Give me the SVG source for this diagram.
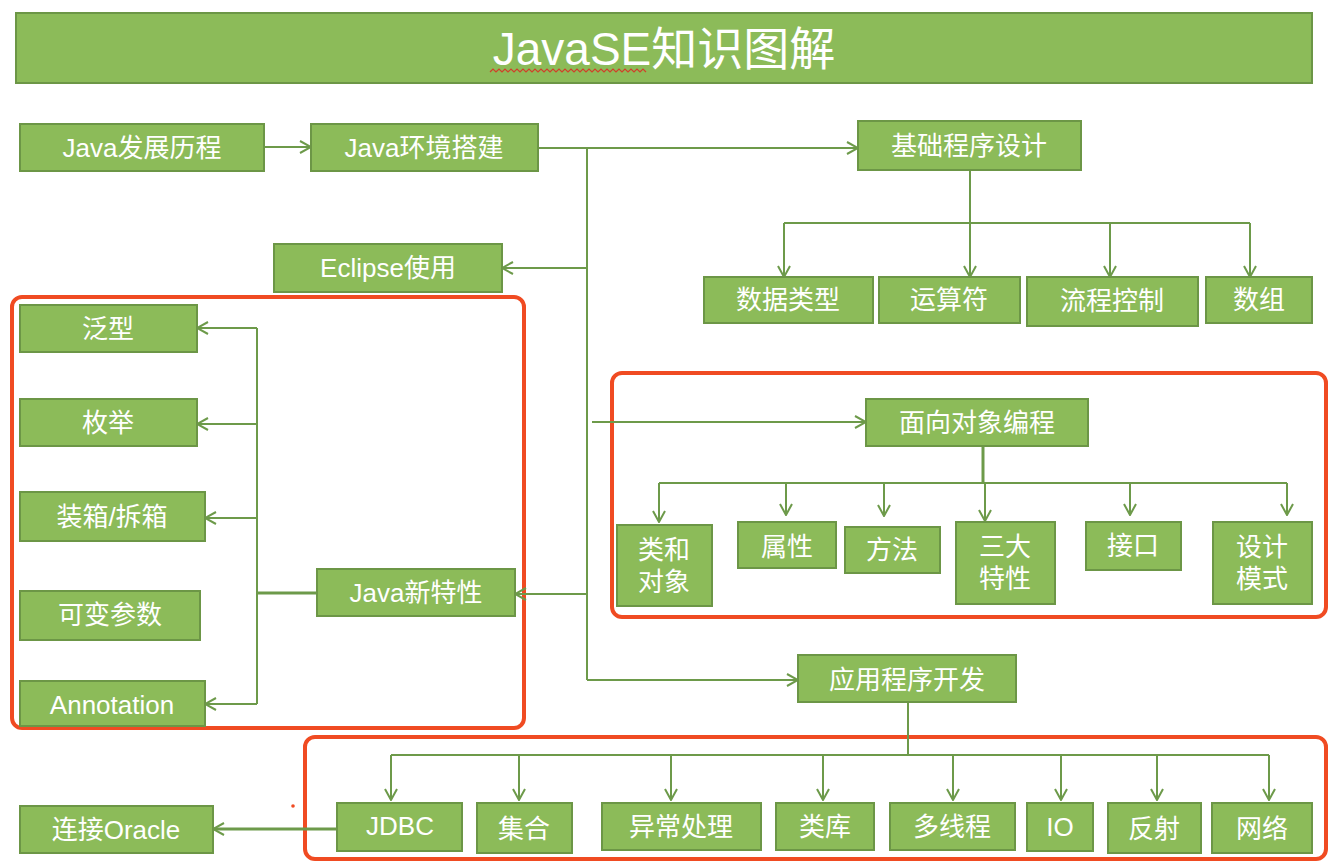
<svg xmlns="http://www.w3.org/2000/svg" width="1344" height="864" viewBox="0 0 1344 864">
<style>
.n{fill:#8cbb59;stroke:#6c9646;stroke-width:2}
.t{font-family:"Liberation Sans","Noto Sans CJK SC",sans-serif;font-size:26px;fill:#ffffff;text-anchor:middle;dominant-baseline:central}
.c{fill:none;stroke:#6d9a4a;stroke-width:2}
.r{fill:none;stroke:#f04b22;stroke-width:4}
</style>
<defs>
<marker id="ah" viewBox="0 0 14 14" refX="13" refY="7" markerWidth="14" markerHeight="14" markerUnits="userSpaceOnUse" orient="auto">
<path d="M2,1 L13,7 L2,13" fill="none" stroke="#6d9a4a" stroke-width="2"/>
</marker>
</defs>
<rect width="1344" height="864" fill="#ffffff"/>
<g id="title">
<rect x="16" y="13" width="1296" height="70" fill="#8cbb59" stroke="#6c9646" stroke-width="2"/>
<text x="664" y="49" class="t" style="font-size:46px">JavaSE知识图解</text>
<path d="M490,72 l3,-3 l3,3 l3,-3 l3,3 l3,-3 l3,3 l3,-3 l3,3 l3,-3 l3,3 l3,-3 l3,3 l3,-3 l3,3 l3,-3 l3,3 l3,-3 l3,3 l3,-3 l3,3 l3,-3 l3,3 l3,-3 l3,3 l3,-3 l3,3 l3,-3 l3,3 l3,-3 l3,3 l3,-3 l3,3 l3,-3 l3,3 l3,-3 l3,3 l3,-3 l3,3 l3,-3 l3,3 l3,-3 l3,3 l3,-3 l3,3 l3,-3 l3,3 l3,-3 l3,3 l3,-3 l3,3 l3,-3 l3,3" fill="none" stroke="#d0402a" stroke-width="1.2"/>
</g>
<g id="highlights">
<rect class="r" x="12" y="297" width="512" height="431" rx="10"/>
<rect class="r" x="612" y="373" width="714" height="244" rx="10"/>
<rect class="r" x="305" y="737" width="1021" height="122" rx="10"/>
<circle cx="293" cy="806" r="1.8" fill="#f04b22"/>
</g>
<g id="connectors">
<path class="c" d="M264,147 H311" marker-end="url(#ah)"/>
<path class="c" d="M538,148 H858" marker-end="url(#ah)"/>
<path class="c" d="M587,148 V680"/>
<path class="c" d="M587,268 H502" marker-end="url(#ah)"/>
<path class="c" d="M592,422 H866" marker-end="url(#ah)"/>
<path class="c" d="M587,594 H515" marker-end="url(#ah)"/>
<path class="c" d="M587,680 H798" marker-end="url(#ah)"/>
<path class="c" d="M970,170 V277" marker-end="url(#ah)"/>
<path class="c" d="M784,223 H1250"/>
<path class="c" d="M784,223 V277" marker-end="url(#ah)"/>
<path class="c" d="M1110,223 V277" marker-end="url(#ah)"/>
<path class="c" d="M1250,223 V277" marker-end="url(#ah)"/>
<path class="c" d="M317,593 H257" style="stroke-width:3"/>
<path class="c" d="M257,328 V704"/>
<path class="c" d="M257,328 H197" marker-end="url(#ah)"/>
<path class="c" d="M257,424 H197" marker-end="url(#ah)"/>
<path class="c" d="M257,518 H205" marker-end="url(#ah)"/>
<path class="c" d="M257,704 H205" marker-end="url(#ah)"/>
<path class="c" d="M983,446 V483" style="stroke-width:3"/>
<path class="c" d="M659,483 H1287"/>
<path class="c" d="M659,483 V522" marker-end="url(#ah)"/>
<path class="c" d="M786,483 V515" marker-end="url(#ah)"/>
<path class="c" d="M884,483 V516" marker-end="url(#ah)"/>
<path class="c" d="M985,483 V521" marker-end="url(#ah)"/>
<path class="c" d="M1130,483 V515" marker-end="url(#ah)"/>
<path class="c" d="M1287,483 V515" marker-end="url(#ah)"/>
<path class="c" d="M908,702 V755"/>
<path class="c" d="M391,755 H1269"/>
<path class="c" d="M391,755 V800" marker-end="url(#ah)"/>
<path class="c" d="M519,755 V800" marker-end="url(#ah)"/>
<path class="c" d="M671,755 V800" marker-end="url(#ah)"/>
<path class="c" d="M823,755 V800" marker-end="url(#ah)"/>
<path class="c" d="M953,755 V800" marker-end="url(#ah)"/>
<path class="c" d="M1061,755 V800" marker-end="url(#ah)"/>
<path class="c" d="M1157,755 V800" marker-end="url(#ah)"/>
<path class="c" d="M1269,755 V800" marker-end="url(#ah)"/>
<path class="c" d="M337,829 H213" style="stroke-width:3" marker-end="url(#ah)"/>
</g>
<g id="n-history"><rect class="n" x="20" y="124" width="244" height="47"/><text class="t" x="142" y="148">Java发展历程</text></g>
<g id="n-env"><rect class="n" x="311" y="124" width="227" height="47"/><text class="t" x="424" y="148">Java环境搭建</text></g>
<g id="n-basic"><rect class="n" x="858" y="121" width="223" height="49"/><text class="t" x="969" y="146">基础程序设计</text></g>
<g id="n-eclipse"><rect class="n" x="274" y="244" width="228" height="48"/><text class="t" x="388" y="268">Eclipse使用</text></g>
<g id="n-datatype"><rect class="n" x="704" y="277" width="169" height="46"/><text class="t" x="788" y="300">数据类型</text></g>
<g id="n-operator"><rect class="n" x="879" y="277" width="141" height="46"/><text class="t" x="949" y="300">运算符</text></g>
<g id="n-flow"><rect class="n" x="1027" y="277" width="171" height="49"/><text class="t" x="1112" y="301">流程控制</text></g>
<g id="n-array"><rect class="n" x="1206" y="277" width="106" height="46"/><text class="t" x="1259" y="300">数组</text></g>
<g id="n-generic"><rect class="n" x="20" y="305" width="177" height="47"/><text class="t" x="108" y="329">泛型</text></g>
<g id="n-enum"><rect class="n" x="20" y="399" width="177" height="47"/><text class="t" x="108" y="423">枚举</text></g>
<g id="n-boxing"><rect class="n" x="20" y="492" width="185" height="49"/><text class="t" x="112" y="517">装箱/拆箱</text></g>
<g id="n-varargs"><rect class="n" x="20" y="591" width="180" height="49"/><text class="t" x="110" y="615">可变参数</text></g>
<g id="n-annotation"><rect class="n" x="20" y="681" width="185" height="45"/><text class="t" x="112" y="705">Annotation</text></g>
<g id="n-newfeat"><rect class="n" x="317" y="569" width="198" height="47"/><text class="t" x="416" y="593">Java新特性</text></g>
<g id="n-oop"><rect class="n" x="866" y="399" width="222" height="47"/><text class="t" x="977" y="423">面向对象编程</text></g>
<g id="n-class"><rect class="n" x="617" y="525" width="95" height="81"/><text class="t" x="664" y="550">类和</text><text class="t" x="664" y="582">对象</text></g>
<g id="n-attr"><rect class="n" x="738" y="522" width="98" height="46"/><text class="t" x="787" y="547">属性</text></g>
<g id="n-method"><rect class="n" x="845" y="527" width="95" height="46"/><text class="t" x="892" y="550">方法</text></g>
<g id="n-three"><rect class="n" x="956" y="522" width="99" height="82"/><text class="t" x="1005" y="547">三大</text><text class="t" x="1005" y="579">特性</text></g>
<g id="n-interface"><rect class="n" x="1086" y="522" width="95" height="48"/><text class="t" x="1133" y="546">接口</text></g>
<g id="n-pattern"><rect class="n" x="1213" y="522" width="99" height="82"/><text class="t" x="1262" y="547">设计</text><text class="t" x="1262" y="579">模式</text></g>
<g id="n-app"><rect class="n" x="798" y="655" width="218" height="47"/><text class="t" x="907" y="680">应用程序开发</text></g>
<g id="n-jdbc"><rect class="n" x="337" y="803" width="125" height="48"/><text class="t" x="400" y="826">JDBC</text></g>
<g id="n-collection"><rect class="n" x="477" y="803" width="95" height="50"/><text class="t" x="524" y="829">集合</text></g>
<g id="n-exception"><rect class="n" x="602" y="803" width="159" height="47"/><text class="t" x="681" y="827">异常处理</text></g>
<g id="n-lib"><rect class="n" x="776" y="803" width="98" height="47"/><text class="t" x="825" y="827">类库</text></g>
<g id="n-thread"><rect class="n" x="890" y="803" width="125" height="47"/><text class="t" x="952" y="827">多线程</text></g>
<g id="n-io"><rect class="n" x="1027" y="803" width="66" height="48"/><text class="t" x="1060" y="827">IO</text></g>
<g id="n-reflect"><rect class="n" x="1108" y="803" width="93" height="50"/><text class="t" x="1154" y="829">反射</text></g>
<g id="n-net"><rect class="n" x="1212" y="803" width="100" height="50"/><text class="t" x="1262" y="829">网络</text></g>
<g id="n-oracle"><rect class="n" x="20" y="806" width="193" height="47"/><text class="t" x="116" y="830">连接Oracle</text></g>
</svg>
